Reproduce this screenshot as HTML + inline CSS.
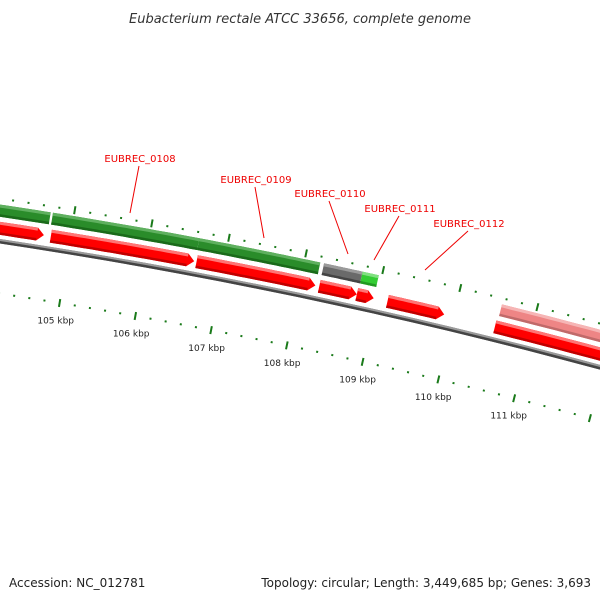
<!DOCTYPE html>
<html><head><meta charset="utf-8"><style>
html,body{margin:0;padding:0;background:#fff}
svg{display:block;font-family:"DejaVu Sans","Liberation Sans",sans-serif}
</style></head><body>
<svg id="map" width="600" height="600" viewBox="0 0 600 600">
<text x="300" y="23" text-anchor="middle" font-size="13" font-style="italic" fill="#333">Eubacterium rectale ATCC 33656, complete genome</text>
<g id="layer"></g>
<text x="9" y="587" font-size="12" fill="#222">Accession: NC_012781</text>
<text x="591" y="587" text-anchor="end" font-size="12" fill="#222">Topology: circular; Length: 3,449,685 bp; Genes: 3,693</text>
</svg>
<script>
// data (kbp)
const redStarts=[103.0,104.75,106.65,108.25,108.74,109.14,110.54];
const redEnds=[104.66,106.62,108.20,108.74,108.96,109.88,113.0];
const topStarts=[103.0,104.73,106.63,108.25,108.75,110.56];
const topEnds=[104.70,106.63,108.20,108.75,108.96,113.0];
const topKinds=["green","green","green","gray","lime","pink"];
const tickLabels=[105,106,107,108,109,110,111];
const labelNames=["EUBREC_0108","EUBREC_0109","EUBREC_0110","EUBREC_0111","EUBREC_0112"];
const labelPos=[[140,162],[256,183],[330,197],[400,212],[469,227]];
const labelTargets=[[130,213],[264,238],[348,254],[374,260],[425,270]];

const NS="http://www.w3.org/2000/svg";
const layer=document.getElementById('layer');
function bx(k){return 68+76.5*(k-105);}
function by(x){return 241+0.15*x+0.0001*x*x;}
function pt(k,off){const x=bx(k);const s=0.15+0.0002*x;const n=Math.sqrt(1+s*s);return [x-off*s/n,by(x)+off/n];}
function mk(tag,attrs){const e=document.createElementNS(NS,tag);for(const a in attrs)e.setAttribute(a,attrs[a]);layer.appendChild(e);return e;}
function band(k1,k2,o1,o2,tip){
  const pts=[];const N=20;
  const ke=k2-tip;
  for(let i=0;i<=N;i++){pts.push(pt(k1+(ke-k1)*i/N,o1));}
  if(tip>0){pts.push(pt(k2,(o1+o2)/2));}
  for(let i=N;i>=0;i--){pts.push(pt(k1+(ke-k1)*i/N,o2));}
  return pts.map(p=>p[0].toFixed(1)+','+p[1].toFixed(1)).join(' ');
}
const cols={green:['#2a8c2a','#5fb05f','#1a6a1a'],gray:['#6a6a6a','#9a9a9a','#444'],lime:['#33cc33','#80e080','#229922'],pink:['#ee8585','#f6b5b5','#c06a6a'],red:['#ff0000','#ff7575','#c00000']};
function feature(k1,k2,o1,o2,arrow,kind,name,inter){
  const c=cols[kind];
  const tip=arrow?Math.min(0.09,(k2-k1)*0.4):0;
  const g=document.createElementNS(NS,'g');layer.appendChild(g);
  
  
  const p=(a)=>{const e=document.createElementNS(NS,'polygon');for(const k in a)e.setAttribute(k,a[k]);g.appendChild(e);};
  p({points:band(k1,k2,o1,o2,tip),fill:c[0]});
  p({points:band(k1,k2-tip,o1,o1+3,0),fill:c[1]});
  p({points:band(k1,k2-tip,o2-2.5,o2,0),fill:c[2]});
}
// backbone
feature(103,113,-2,2.5,false,'gray','genome-backbone','false');
for(let i=0;i<topStarts.length;i++){
  feature(topStarts[i],topEnds[i],-36,-24,false,topKinds[i],'feature-'+topKinds[i]+'-'+i,'true');
}
for(let i=0;i<redStarts.length;i++){
  feature(redStarts[i],redEnds[i],-19,-6,true,'red','gene-cds-'+i,'true');
}
// ticks
for(let k=103;k<=113.001;k+=0.2){
  const kk=Math.round(k*10)/10;const major=Math.abs(kk-Math.round(kk))<0.01;
  [[-42,major?8:2],[52,major?8:2]].forEach(([o,len],j)=>{
    const a=pt(kk,o-len/2),b=pt(kk,o+len/2);
    const t=mk('line',{x1:a[0],y1:a[1],x2:b[0],y2:b[1],stroke:'#1a7a1a','stroke-width':2});
    
    
  });
}
tickLabels.forEach(k=>{
  const p=pt(k,70);
  const t=mk('text',{x:p[0]-1,y:p[1]+3,'text-anchor':'middle','font-size':9,fill:'#222'});
  t.textContent=k+' kbp';
  
  
});
labelNames.forEach((n,i)=>{
  const [x,y]=labelPos[i],[tx,ty]=labelTargets[i];
  const l=mk('line',{x1:x-1,y1:y+4,x2:tx,y2:ty,stroke:'#e00','stroke-width':1});
  
  
  const t=mk('text',{x:x,y:y,'text-anchor':'middle','font-size':10,fill:'#e00'});
  t.textContent=n;
  
  
});
</script>
</body></html>
